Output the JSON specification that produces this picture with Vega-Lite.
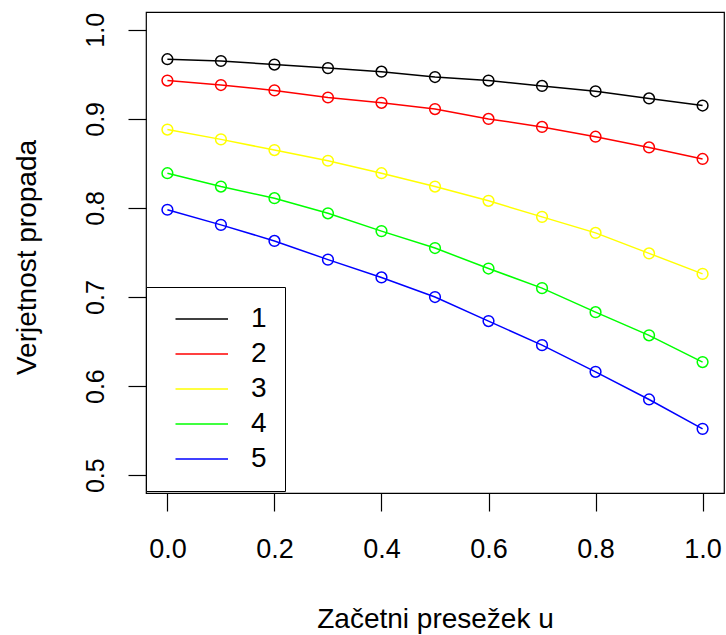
{
  "$schema": "https://vega.github.io/schema/vega-lite/v6.json",
  "width": 578,
  "height": 481,
  "autosize": {"type": "none"},
  "padding": {"left": 146, "top": 12, "right": 2, "bottom": 142},
  "background": "white",
  "config": {
    "font": "Liberation Sans",
    "view": {"stroke": "black", "strokeWidth": 1.2},
    "axis": {"grid": false, "domain": false, "tickColor": "black", "tickWidth": 1.2, "tickSize": 18, "labelColor": "black", "titleColor": "black", "titleFontWeight": "normal", "titleFontSize": 28, "titleFont": "Liberation Sans", "labelFont": "Liberation Sans"}
  },
  "data": {
    "values": [
      {"u": 0.0, "s": "1", "p": 0.967}, {"u": 0.1, "s": "1", "p": 0.965}, {"u": 0.2, "s": "1", "p": 0.961}, {"u": 0.3, "s": "1", "p": 0.957}, {"u": 0.4, "s": "1", "p": 0.953}, {"u": 0.5, "s": "1", "p": 0.947}, {"u": 0.6, "s": "1", "p": 0.943}, {"u": 0.7, "s": "1", "p": 0.937}, {"u": 0.8, "s": "1", "p": 0.931}, {"u": 0.9, "s": "1", "p": 0.923}, {"u": 1.0, "s": "1", "p": 0.915},
      {"u": 0.0, "s": "2", "p": 0.943}, {"u": 0.1, "s": "2", "p": 0.938}, {"u": 0.2, "s": "2", "p": 0.932}, {"u": 0.3, "s": "2", "p": 0.924}, {"u": 0.4, "s": "2", "p": 0.918}, {"u": 0.5, "s": "2", "p": 0.911}, {"u": 0.6, "s": "2", "p": 0.900}, {"u": 0.7, "s": "2", "p": 0.891}, {"u": 0.8, "s": "2", "p": 0.880}, {"u": 0.9, "s": "2", "p": 0.868}, {"u": 1.0, "s": "2", "p": 0.855},
      {"u": 0.0, "s": "3", "p": 0.888}, {"u": 0.1, "s": "3", "p": 0.877}, {"u": 0.2, "s": "3", "p": 0.865}, {"u": 0.3, "s": "3", "p": 0.853}, {"u": 0.4, "s": "3", "p": 0.839}, {"u": 0.5, "s": "3", "p": 0.824}, {"u": 0.6, "s": "3", "p": 0.808}, {"u": 0.7, "s": "3", "p": 0.790}, {"u": 0.8, "s": "3", "p": 0.772}, {"u": 0.9, "s": "3", "p": 0.749}, {"u": 1.0, "s": "3", "p": 0.726},
      {"u": 0.0, "s": "4", "p": 0.839}, {"u": 0.1, "s": "4", "p": 0.824}, {"u": 0.2, "s": "4", "p": 0.811}, {"u": 0.3, "s": "4", "p": 0.794}, {"u": 0.4, "s": "4", "p": 0.774}, {"u": 0.5, "s": "4", "p": 0.755}, {"u": 0.6, "s": "4", "p": 0.732}, {"u": 0.7, "s": "4", "p": 0.710}, {"u": 0.8, "s": "4", "p": 0.683}, {"u": 0.9, "s": "4", "p": 0.657}, {"u": 1.0, "s": "4", "p": 0.627},
      {"u": 0.0, "s": "5", "p": 0.798}, {"u": 0.1, "s": "5", "p": 0.781}, {"u": 0.2, "s": "5", "p": 0.763}, {"u": 0.3, "s": "5", "p": 0.742}, {"u": 0.4, "s": "5", "p": 0.722}, {"u": 0.5, "s": "5", "p": 0.700}, {"u": 0.6, "s": "5", "p": 0.673}, {"u": 0.7, "s": "5", "p": 0.646}, {"u": 0.8, "s": "5", "p": 0.616}, {"u": 0.9, "s": "5", "p": 0.585}, {"u": 1.0, "s": "5", "p": 0.552}
    ]
  },
  "encoding": {
    "x": {
      "field": "u", "type": "quantitative",
      "scale": {"domain": [-0.04, 1.04], "nice": false, "zero": false},
      "axis": {"title": "Začetni presežek u", "values": [0, 0.2, 0.4, 0.6, 0.8, 1.0], "format": ".1f", "labelFontSize": 27, "labelPadding": 25, "labelFlush": false, "titleBaseline": "alphabetic", "titleY": 134}
    },
    "y": {
      "field": "p", "type": "quantitative",
      "scale": {"domain": [0.48, 1.02], "nice": false, "zero": false},
      "axis": {"title": "Verjetnost propada", "values": [0.5, 0.6, 0.7, 0.8, 0.9, 1.0], "format": ".1f", "labelFontSize": 25, "labelAngle": 270, "labelAlign": "center", "labelBaseline": "alphabetic", "labelPadding": 25, "labelFlush": false, "titleAngle": 270, "titleBaseline": "alphabetic", "titleAlign": "center", "titleX": -111, "titleY": 245}
    },
    "color": {
      "field": "s", "type": "nominal",
      "scale": {"domain": ["1", "2", "3", "4", "5"], "range": ["#000000", "#FF0000", "#FFFF00", "#00FF00", "#0000FF"]}
    }
  },
  "layer": [
    {
      "mark": {"type": "line", "strokeWidth": 1.5},
      "encoding": {
        "color": {
          "field": "s", "type": "nominal",
          "scale": {"domain": ["1", "2", "3", "4", "5"], "range": ["#000000", "#FF0000", "#FFFF00", "#00FF00", "#0000FF"]},
          "legend": {
            "title": null, "orient": "none", "legendX": 0, "legendY": 275,
            "padding": 18, "strokeColor": "black", "fillColor": "white",
            "symbolType": "M-1,0H4", "symbolSize": 441, "symbolStrokeWidth": 1.5, "symbolOffset": 8,
            "labelFontSize": 28, "labelOffset": 51, "rowPadding": 7, "labelColor": "black", "labelFont": "Liberation Sans"
          }
        }
      }
    },
    {
      "mark": {"type": "point", "shape": "circle", "filled": false, "size": 115, "strokeWidth": 1.5, "opacity": 1},
      "encoding": {
        "color": {"field": "s", "type": "nominal", "legend": null,
          "scale": {"domain": ["1", "2", "3", "4", "5"], "range": ["#000000", "#FF0000", "#FFFF00", "#00FF00", "#0000FF"]}}
      }
    }
  ]
}
